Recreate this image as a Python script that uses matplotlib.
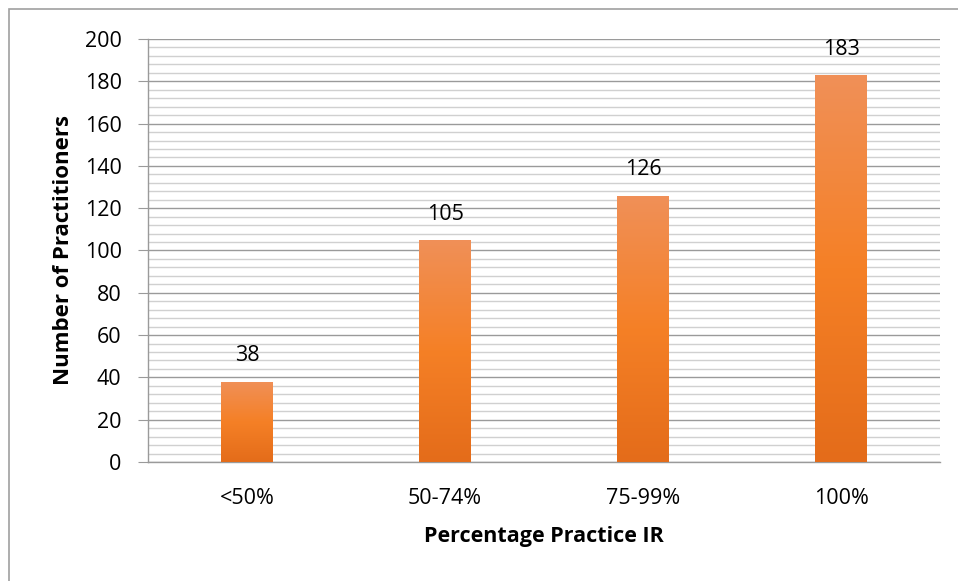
import numpy as np
import matplotlib
matplotlib.use("Agg")
import matplotlib.pyplot as plt
from matplotlib.colors import LinearSegmentedColormap
from matplotlib.patches import Rectangle
from matplotlib.ticker import MultipleLocator

# ====== DATA ======
categories = ["<50%", "50-74%", "75-99%", "100%"]
practitioners = [38, 105, 126, 183]

X_LABEL = "Percentage Practice IR"
Y_LABEL = "Number of Practitioners"

plt.rcParams["font.family"] = ["Open Sans", "DejaVu Sans"]

# orange gradient like the Excel fill (light top -> dark bottom)
grad = LinearSegmentedColormap.from_list(
    "bar_grad", ["#E46C1A", "#F58026", "#F09058"]
)

FS = 15.5


def main():
    fig = plt.figure(figsize=(9.58, 5.81), dpi=100)
    ax = fig.add_axes([0.1545, 0.2048, 0.8267, 0.7281])

    x = np.arange(len(categories))
    width = 0.26

    bars = ax.bar(x, practitioners, width=width, color="none", zorder=3)

    # fill each bar with a vertical gradient
    g = np.linspace(0, 1, 256).reshape(-1, 1)
    for b in bars:
        x0, y0 = b.get_x(), b.get_y()
        w, h = b.get_width(), b.get_height()
        im = ax.imshow(g, cmap=grad, origin="lower", aspect="auto",
                       extent=(x0, x0 + w, y0, y0 + h), zorder=3)
        im.set_clip_path(b)

    for b, v in zip(bars, practitioners):
        ax.annotate(str(v), (b.get_x() + b.get_width() / 2, v),
                    xytext=(0, 11), textcoords="offset points",
                    ha="center", va="bottom", fontsize=FS, color="black")

    ax.set_xlim(-0.5, len(categories) - 0.5)
    ax.set_ylim(0, 200)
    ax.yaxis.set_major_locator(MultipleLocator(20))
    ax.yaxis.set_minor_locator(MultipleLocator(4))

    ax.grid(True, which="major", axis="y", color="#9A9A9A", lw=1.0, zorder=1)
    ax.grid(True, which="minor", axis="y", color="#D0D0D0", lw=1.0, zorder=0)
    ax.set_axisbelow(True)

    ax.set_xticks(x, categories)
    ax.tick_params(axis="x", length=0, pad=19, labelsize=FS)
    ax.tick_params(axis="y", which="major", length=7, color="#9A9A9A",
                   pad=12, labelsize=FS)
    ax.tick_params(axis="y", which="minor", length=0)

    for side in ("top", "right"):
        ax.spines[side].set_visible(False)
    for side in ("left", "bottom"):
        ax.spines[side].set_color("#9A9A9A")
        ax.spines[side].set_linewidth(1.0)

    ax.set_xlabel(X_LABEL, fontsize=15.5, fontweight="bold", labelpad=12)
    ax.set_ylabel(Y_LABEL, fontsize=16, fontweight="bold", labelpad=8)

    # chart frame (only top/left visible inside the crop)
    fig.patches.append(Rectangle((9 / 958, -0.05), 1.1, 1 - 9 / 581 + 0.05,
                                 transform=fig.transFigure, fill=False,
                                 edgecolor="#A0A0A0", lw=1.2))

    fig.savefig("out.png", dpi=100)
    plt.close(fig)


if __name__ == "__main__":
    main()
